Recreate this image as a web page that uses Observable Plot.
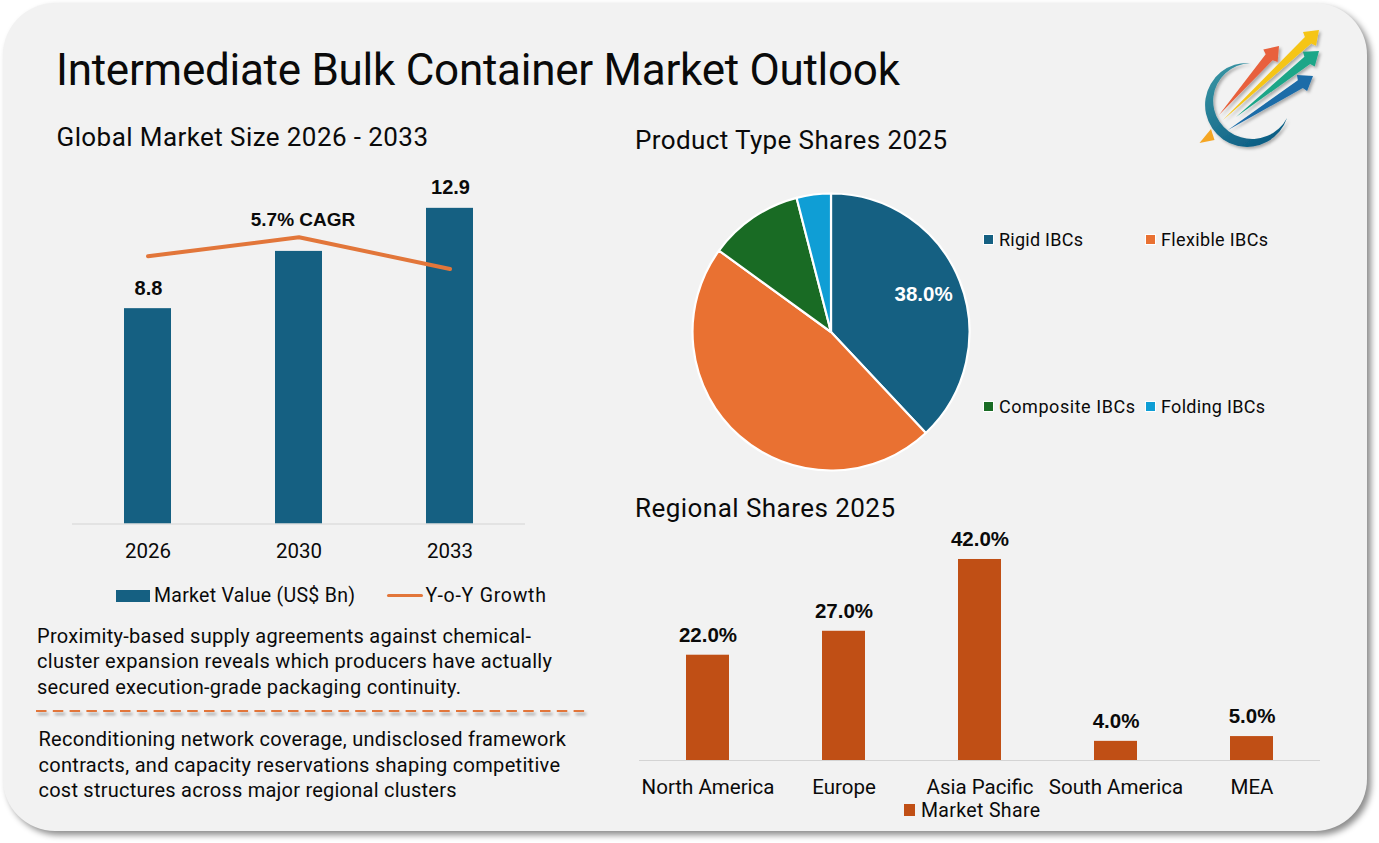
<!DOCTYPE html>
<html><head><meta charset="utf-8">
<script src="https://cdn.jsdelivr.net/npm/d3@7"></script>
<script src="https://cdn.jsdelivr.net/npm/@observablehq/plot@0.6"></script>
<style>
html,body{margin:0;padding:0;background:#fff;width:1379px;height:843px;overflow:hidden}
#page{position:relative;width:1379px;height:843px;overflow:hidden;font-family:Roboto,sans-serif;color:#0a0a0a}
#card{position:absolute;left:3px;top:3px;width:1364px;height:828px;border-radius:52px;background:#f2f2f2;box-shadow:4px 4px 6px rgba(0,0,0,.45)}
.t{position:absolute;white-space:nowrap;line-height:1;transform:translateY(-50%)}
.s{position:absolute}
.p{position:absolute}
.p svg{display:block;overflow:visible;background:transparent}
</style></head><body><div id="page"><div id="card"></div></div>
<script>
// ---- data ----
const years = ["2026","2030","2033"];
const marketValues = [8.8,11.14,12.9];
const yoyLine = [10.94,11.72,10.42];
const valueLabels = ["8.8","","12.9"];
const cagrLabel = "5.7% CAGR";
const productTypes = ["Rigid IBCs","Flexible IBCs","Composite IBCs","Folding IBCs"];
const productShares = [38,47,11,4];
const productColors = ["#156082","#E97132","#196B24","#0F9ED5"];
const regions = ["North America","Europe","Asia Pacific","South America","MEA"];
const regionShares = [22,27,42,4,5];

const BLUE="#156082", ORANGE="#E2763A", RUST="#C04F15", AX="#d4d4d4";
const page=document.getElementById("page");

function text(str,left,cy,size,w,opts={}){
  const d=document.createElement("div");d.className="t";d.textContent=str;
  d.style.left=left+"px";d.style.top=cy+"px";d.style.fontSize=size+"px";
  if(opts.weight)d.style.fontWeight=opts.weight;
  page.appendChild(d);
  if(w){const cur=d.getBoundingClientRect().width;d.style.letterSpacing=((w-cur)/(str.length-1))+"px";}
  return d;
}
function swatch(x,y,w,h,c,extra){
  const d=document.createElement("div");d.className="s";
  Object.assign(d.style,{left:x+"px",top:y+"px",width:w+"px",height:h+"px",background:c},extra||{});
  page.appendChild(d);
}
function place(svg,left,top){
  const d=document.createElement("div");d.className="p";d.style.left=left+"px";d.style.top=top+"px";
  d.appendChild(svg);page.appendChild(d);
}

// ---- titles ----
text("Intermediate Bulk Container Market Outlook",56,70,44,844);
text("Global Market Size 2026 - 2033",56.5,137,26,371.5);
text("Product Type Shares 2025",635,140,26,312);
text("Regional Shares 2025",635,508,26,260);

// ---- market size chart ----
const sizeRows=years.map((year,i)=>({year,value:marketValues[i],yoy:yoyLine[i],label:valueLabels[i]}));
place(Plot.plot({
  width:480,height:400,marginLeft:12,marginRight:15,marginTop:0,marginBottom:46.5,
  style:{background:"transparent",fontFamily:"Roboto,sans-serif",color:"#0a0a0a"},
  x:{type:"band",domain:years,paddingInner:0.689,paddingOuter:0.3445,axis:null},
  y:{domain:[0,14],range:[353.5,10.92],axis:null},
  marks:[
    Plot.barY(sizeRows,{x:"year",y:"value",fill:BLUE}),
    Plot.ruleY([0],{stroke:AX,strokeWidth:1}),
    Plot.line(sizeRows,{x:"year",y:"yoy",stroke:ORANGE,strokeWidth:4,strokeLinecap:"round",strokeLinejoin:"round"}),
    Plot.text(sizeRows.filter(d=>d.label),{x:"year",y:"value",text:"label",dy:-20.5,dx:0.5,fontSize:20,fontWeight:"bold",fontFamily:"Liberation Sans",fill:"#0a0a0a"}),
    Plot.text(sizeRows.filter(d=>d.year==="2030"),{x:"year",y:"yoy",text:()=>cagrLabel,dy:-17,dx:4,fontSize:19,fontWeight:"bold",fontFamily:"Liberation Sans",fill:"#0a0a0a"}),
    Plot.axisX({tickSize:0,tickPadding:19,fontSize:20.5,label:null})
  ]
}),60,170);

swatch(115.5,590,34,12,BLUE);
text("Market Value (US$ Bn)",154,595.5,19.5,201);
swatch(386.5,593.5,36.5,3.4,ORANGE,{borderRadius:"2px"});
text("Y-o-Y Growth",425.5,595.5,19.5,120.5);

// ---- commentary ----
[["Proximity-based supply agreements against chemical-",37,636,494],
 ["cluster expansion reveals which producers have actually",37,661,515],
 ["secured execution-grade packaging continuity.",37,687,424],
 ["Reconditioning network coverage, undisclosed framework",38.5,739,527.5],
 ["contracts, and capacity reservations shaping competitive",38.5,764.5,521.5],
 ["cost structures across major regional clusters",38.5,790,418]
].forEach(([s,x,y,w])=>text(s,x,y,20,w));

// divider (decoration)
const ns="http://www.w3.org/2000/svg";
const deco=document.createElementNS(ns,"svg");
deco.setAttribute("width",1379);deco.setAttribute("height",843);
deco.style.cssText="position:absolute;left:0;top:0;pointer-events:none";
deco.innerHTML=`
<defs>
<filter id="sh" filterUnits="userSpaceOnUse" x="20" y="700" width="600" height="30"><feDropShadow dx="2" dy="3" stdDeviation="1.6" flood-color="#000" flood-opacity=".35"/></filter>
<filter id="ar" x="-20%" y="-20%" width="150%" height="150%"><feDropShadow dx="2" dy="2" stdDeviation="1.5" flood-color="#000" flood-opacity=".3"/></filter>
<linearGradient id="ring" x1="0" y1="0" x2="0.6" y2="1"><stop offset="0" stop-color="#3c9aa6"/><stop offset="1" stop-color="#0e5f85"/></linearGradient>
</defs>
<line x1="36" x2="586" y1="711" y2="711" stroke="#E2763A" stroke-width="2.2" stroke-dasharray="10.5 6.3" filter="url(#sh)"/>`;
page.appendChild(deco);

// logo (decoration)
function arrow(x0,y0,x1,y1,c){
  const L=Math.hypot(x1-x0,y1-y0),ux=(x1-x0)/L,uy=(y1-y0)/L,nx=-uy,ny=ux;
  const h=15,sw=4.6,hw=9.5;
  const P=(a,b)=>`${x0+ux*a+nx*b},${y0+uy*a+ny*b}`;
  return `<polygon fill="${c}" filter="url(#ar)" points="${P(0,0)} ${P(L-h,sw)} ${P(L-h+2,hw)} ${P(L,0)} ${P(L-h+2,-hw)} ${P(L-h,-sw)}"/>`;
}
const logo=document.createElementNS(ns,"g");
logo.innerHTML=`
<path d="M1250 63 A42 42 0 1 0 1287 118 A39 38 0 1 1 1250 63 Z" fill="url(#ring)" filter="url(#ar)"/>
<polygon points="1199.5,143 1211,129 1214.5,140" fill="#F5A623"/>`
+arrow(1219,115,1279,46,"#E8613C")+arrow(1223,120,1319,30,"#F5C518")+arrow(1236,117,1319,51,"#1EA688")+arrow(1228,130,1313,76,"#1B6CA8");
deco.appendChild(logo);

// ---- pie ----
const productRows=productTypes.map((type,i)=>({type,share:productShares[i]}));
const arcs=d3.pie().sort(null).value(d=>d.share)(productRows);
const mid=(arcs[0].startAngle+arcs[0].endAngle)/2;
place(Plot.plot({
  width:300,height:300,margin:0,
  style:{background:"transparent",overflow:"visible"},
  x:{domain:[-1,1],range:[11.5,288.5],axis:null},
  y:{domain:[-1,1],range:[288.5,11.5],axis:null},
  color:{domain:productTypes,range:productColors},
  marks:[
    Plot.dot(productRows,{x:()=>0,y:()=>0,fill:"type",render(index,scales,values,dim,ctx){
      const g=ctx.document.createElementNS(ns,"g");
      const cx=scales.x(0),cy=scales.y(0),r=scales.x(1)-cx;
      const arc=d3.arc().innerRadius(0).outerRadius(r);
      for(const i of index){
        const p=ctx.document.createElementNS(ns,"path");
        p.setAttribute("d",arc(arcs[i]));
        p.setAttribute("transform",`translate(${cx},${cy})`);
        p.setAttribute("fill",values.fill?values.fill[i]:scales.color(productRows[i].type));
        p.setAttribute("stroke","#fff");p.setAttribute("stroke-width","2.2");p.setAttribute("stroke-linejoin","round");
        g.appendChild(p);
      }
      return g;
    }}),
    Plot.text([productRows[0]],{x:()=>0.715*Math.sin(mid),y:()=>0.7*Math.cos(mid)+0.018,text:d=>d.share.toFixed(1)+"%",fill:"#fff",fontSize:20.5,fontWeight:"bold",fontFamily:"Liberation Sans"})
  ]
}),680.5,182);

const halo={outline:"1.5px solid #fff"};
[[984,239.5,999,84,0],[1146,239.5,1161,107,1],[984,406.5,999,136,2],[1146,406.5,1161,104,3]].forEach(([sx,cy,tx,w,i])=>{
  swatch(sx,cy-5,9,9,productColors[i],halo);
  text(productTypes[i],tx,cy,18,w);
});

// ---- regional chart ----
const regionRows=regions.map((region,i)=>({region,share:regionShares[i]}));
place(Plot.plot({
  width:700,height:300,marginLeft:9,marginRight:10,marginTop:0,marginBottom:60,
  style:{background:"transparent",fontFamily:"Roboto,sans-serif",color:"#0a0a0a"},
  x:{type:"band",domain:regions,paddingInner:0.684,paddingOuter:0.342,axis:null},
  y:{domain:[0,48],range:[240,10.27],axis:null},
  marks:[
    Plot.barY(regionRows,{x:"region",y:"share",fill:RUST}),
    Plot.ruleY([0],{stroke:AX,strokeWidth:1}),
    Plot.text(regionRows,{x:"region",y:"share",text:d=>d.share.toFixed(1)+"%",dy:-20,fontSize:20.5,fontWeight:"bold",fontFamily:"Liberation Sans",fill:"#0a0a0a"}),
    Plot.axisX({tickSize:0,tickPadding:19,fontSize:20.5,label:null})
  ]
}),630,520);

swatch(904,804,11,12,RUST);
text("Market Share",921,810.5,19.5,119);
</script></body></html>
